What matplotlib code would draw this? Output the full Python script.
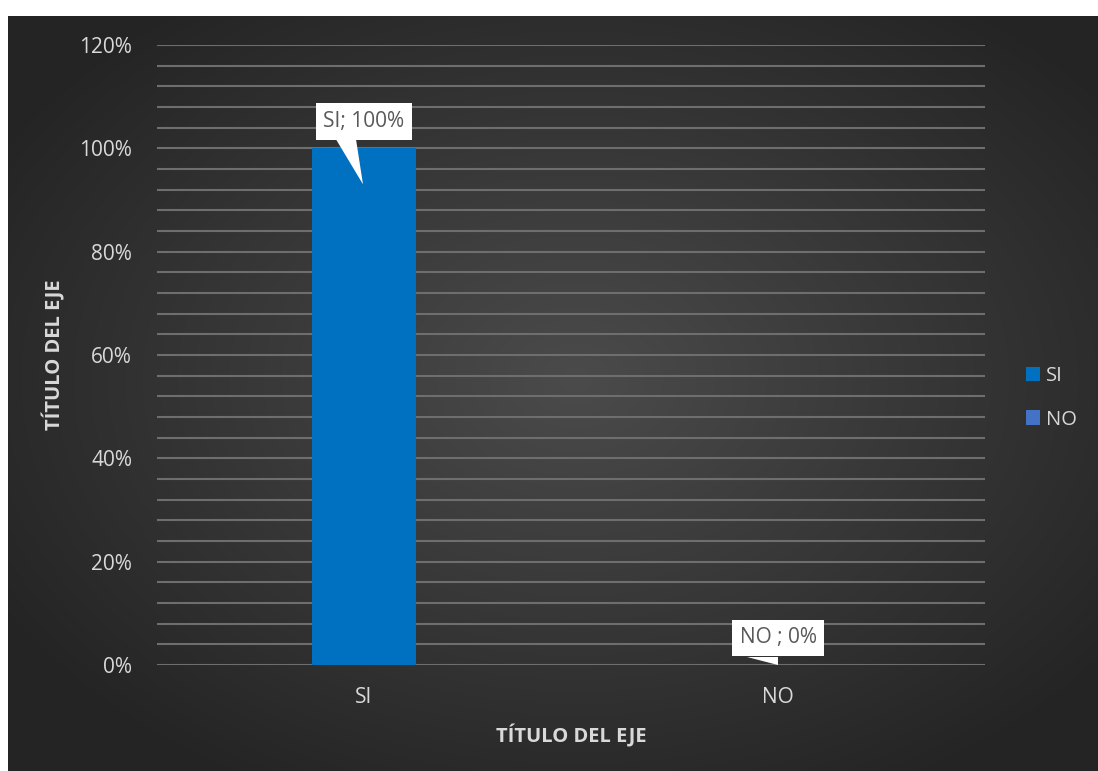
import matplotlib
matplotlib.use("Agg")
import matplotlib.pyplot as plt
import numpy as np
from matplotlib.patches import Polygon, Patch
from matplotlib.ticker import MultipleLocator, FuncFormatter

plt.rcParams['font.family'] = ['Open Sans', 'DejaVu Sans']

categories = ["SI", "NO"]
values = [1.00, 0.00]
series_colors = ["#0070C0", "#4472C4"]
label_texts = ["SI; 100%", "NO ; 0%"]
axis_title = "TÍTULO DEL EJE"

W, H = 1098, 771
fig = plt.figure(figsize=(W / 100, H / 100), dpi=100)
fig.patch.set_facecolor("white")

# background with radial gradient
bg = fig.add_axes([8 / W, 0, 1 - 8 / W, (H - 16) / H])
bg.set_axis_off()
ny, nx = 300, 430
yy, xx = np.mgrid[0:ny, 0:nx]
cx, cy = nx * 0.52, ny * 0.48
r = np.sqrt(((xx - cx) / (nx * 0.62)) ** 2 + ((yy - cy) / (ny * 0.62)) ** 2)
r = np.clip(r, 0, 1)
c_in, c_out = np.array([0x4b, 0x4b, 0x4b]) / 255, np.array([0x24, 0x24, 0x24]) / 255
img = c_in[None, None, :] * (1 - r[..., None]) + c_out[None, None, :] * r[..., None]
bg.imshow(img, aspect="auto", extent=[0, 1, 0, 1], interpolation="bilinear")
bg.set_xlim(0, 1)
bg.set_ylim(0, 1)

ax = fig.add_axes([157 / W, (H - 665) / H, (985 - 157) / W, (665 - 45) / H])
ax.set_facecolor("none")
x = np.arange(len(categories))
ax.bar(x, values, width=0.25, color=series_colors[0], zorder=3)
ax.set_xlim(-0.5, 1.5)
ax.set_ylim(0, 1.2)
ax.yaxis.set_major_locator(MultipleLocator(0.2))
ax.yaxis.set_minor_locator(MultipleLocator(0.04))
ax.yaxis.set_major_formatter(FuncFormatter(lambda v, p: f"{v*100:.0f}%"))
ax.grid(axis="y", which="both", color="#6e6e6e", linewidth=1.5, zorder=1)
ax.set_xticks(x)
ax.set_xticklabels(categories)
for s in ax.spines.values():
    s.set_visible(False)
ax.tick_params(axis="both", which="both", length=0, colors="#d9d9d9", labelsize=15)
ax.tick_params(axis="y", pad=18)
ax.tick_params(axis="x", pad=16)
ax.set_xlabel(axis_title, fontsize=14.5, fontweight="bold", color="#d9d9d9", labelpad=12)
ax.set_ylabel(axis_title, fontsize=14.5, fontweight="bold", color="#d9d9d9", labelpad=10)

# legend
handles = [Patch(facecolor=series_colors[0]), Patch(facecolor=series_colors[1])]
fig.legend(handles, categories, loc="center left", bbox_to_anchor=(1008 / W, 1 - 398 / H),
           frameon=False, fontsize=14.5, labelcolor="#d9d9d9", handlelength=0.7,
           handleheight=0.7, handletextpad=0.3, labelspacing=1.15)

# callouts
fig.canvas.draw()
callouts = [
    (label_texts[0], 27, [(-28, 9), (-8, 9)], (-1, -36)),
    (label_texts[1], 27, [(-31, 8), (0, 8)], (0, 0)),
]
for i, (txt, dy, base, tip) in enumerate(callouts):
    px, py = ax.transData.transform((x[i], values[i]))
    pts = [(px + bx, py + by) for bx, by in base] + [(px + tip[0], py + tip[1])]
    fig.patches.append(Polygon(pts, closed=True, facecolor="white", edgecolor="none",
                               transform=None, zorder=5))
    ax.annotate(txt, xy=(x[i], values[i]), xytext=(0, dy), textcoords="offset pixels",
                ha="center", va="center", fontsize=15, color="#595959", zorder=6,
                bbox=dict(boxstyle="square,pad=0.38", fc="white", ec="none"))

fig.savefig("out.png", dpi=100, facecolor=fig.get_facecolor())
